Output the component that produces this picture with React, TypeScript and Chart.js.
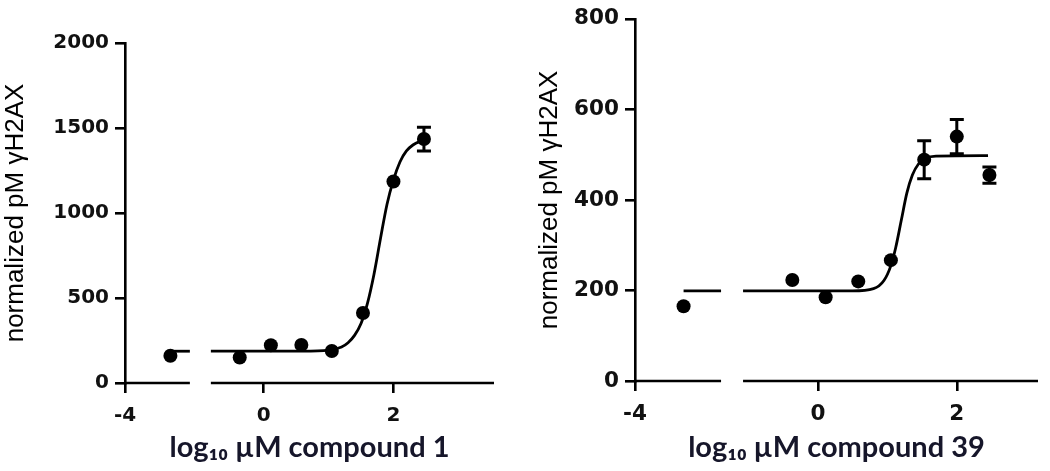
import React, { useEffect, useRef } from 'react';
import { Chart, registerables, LinearScale } from 'chart.js';

Chart.register(...registerables);

// ---------- data ----------
const controlX = -3.3; // untreated control plotted left of the axis break
const doseLog = [-0.37, 0.11, 0.58, 1.05, 1.53, 2.0, 2.47];
const xTicks = [-4, 0, 2];

// compound 1
const c1Control = 160;
const c1Values = [150, 222, 224, 188, 412, 1185, 1435];
const c1Errors = [0, 0, 0, 0, 0, 0, 70];
const c1CurveLeftX = [-3.25, -3.0];
const c1CurveLeftY = [187, 187];
const c1CurveX = [-0.815, 0.6, 1.0, 1.2, 1.3, 1.4, 1.5, 1.6, 1.7, 1.8, 1.9, 2.0, 2.1, 2.2, 2.3, 2.4, 2.48];
const c1CurveY = [187, 187, 193, 212, 237, 280, 350, 470, 640, 850, 1050, 1195, 1300, 1365, 1400, 1420, 1428];
const c1YTicks = [0, 500, 1000, 1500, 2000];

// compound 39
const c39Control = 165;
const c39Values = [223, 185, 220, 267, 489, 540, 455];
const c39Errors = [0, 0, 0, 0, 42, 38, 18];
const c39CurveLeftX = [-3.3, -2.76];
const c39CurveLeftY = [199, 199];
const c39CurveX = [-1.08, 0.5, 0.8, 0.95, 1.05, 1.12, 1.2, 1.28, 1.36, 1.45, 1.55, 1.7, 2.45];
const c39CurveY = [199, 199, 204, 222, 255, 295, 355, 415, 455, 480, 492, 497, 498];
const c39YTicks = [0, 200, 400, 600, 800];

// ---------- broken linear scale ----------
class BrokenLinearScale extends LinearScale {
  static id = 'brokenLinear';
  static defaults = {};
  _brk() {
    const o: any = this.options;
    return { a: o.breakStart as number, b: o.breakEnd as number, gap: o.breakGap as number };
  }
  getPixelForValue(value: any) {
    if (value === null || value === undefined || Number.isNaN(+value)) return NaN;
    const { a, b, gap } = this._brk();
    const min = this.min, max = this.max, len = (this as any)._length;
    const k = (len - gap) / ((a - min) + (max - b));
    let off: number;
    if (value <= a) off = (value - min) * k;
    else if (value >= b) off = (a - min) * k + gap + (value - b) * k;
    else off = (a - min) * k + gap * (value - a) / (b - a);
    return this.getPixelForDecimal(off / len);
  }
  getValueForPixel(pixel: number) {
    const { a, b, gap } = this._brk();
    const min = this.min, max = this.max, len = (this as any)._length;
    const k = (len - gap) / ((a - min) + (max - b));
    const off = this.getDecimalForPixel(pixel) * len;
    const aOff = (a - min) * k;
    if (off <= aOff) return min + off / k;
    if (off >= aOff + gap) return b + (off - aOff - gap) / k;
    return a + (b - a) * (off - aOff) / gap;
  }
}
Chart.register(BrokenLinearScale as any);

// ---------- plugins ----------
const brokenAxisPlugin = {
  id: 'brokenAxis',
  beforeDatasetsDraw(chart: any) {
    const xs = chart.scales.x;
    const ys = chart.scales.y;
    const o = xs.options;
    const ctx = chart.ctx;
    const yb = ys.getPixelForValue(0);
    ctx.save();
    ctx.strokeStyle = '#000';
    ctx.lineWidth = 2.6;
    ctx.beginPath();
    ctx.moveTo(chart.chartArea.left, yb);
    ctx.lineTo(xs.getPixelForValue(o.breakStart), yb);
    ctx.moveTo(xs.getPixelForValue(o.breakEnd), yb);
    ctx.lineTo(chart.chartArea.right, yb);
    ctx.stroke();
    ctx.restore();
  },
};

const errorBarPlugin = {
  id: 'errorBars',
  afterDatasetsDraw(chart: any) {
    const ctx = chart.ctx;
    const xs = chart.scales.x;
    const ys = chart.scales.y;
    chart.data.datasets.forEach((ds: any) => {
      if (!ds.errors) return;
      ctx.save();
      ctx.strokeStyle = '#000';
      ctx.lineWidth = 3;
      ds.data.forEach((pt: any, i: number) => {
        const e = ds.errors[i];
        if (!e) return;
        const px = xs.getPixelForValue(pt.x);
        const top = ys.getPixelForValue(pt.y + e);
        const bot = ys.getPixelForValue(pt.y - e);
        ctx.beginPath();
        ctx.moveTo(px, top);
        ctx.lineTo(px, bot);
        ctx.moveTo(px - 7, top);
        ctx.lineTo(px + 7, top);
        ctx.moveTo(px - 7, bot);
        ctx.lineTo(px + 7, bot);
        ctx.stroke();
      });
      ctx.restore();
    });
  },
};

function makeConfig(p: any): any {
  const tickFont = { family: "'DejaVu Sans', sans-serif", size: p.tickSize, weight: 'bold' };
  const pts = [{ x: controlX, y: p.control }, ...doseLog.map((x, i) => ({ x, y: p.values[i] }))];
  const errs = [0, ...p.errors];
  const curveStyle = {
    showLine: true,
    pointRadius: 0,
    borderColor: '#000',
    borderWidth: 2.8,
    cubicInterpolationMode: 'monotone',
    fill: false,
  };
  return {
    type: 'scatter',
    data: {
      datasets: [
        { ...curveStyle, data: p.curveLeftX.map((x: number, i: number) => ({ x, y: p.curveLeftY[i] })) },
        { ...curveStyle, data: p.curveX.map((x: number, i: number) => ({ x, y: p.curveY[i] })) },
        {
          data: pts,
          errors: errs,
          showLine: false,
          pointRadius: 7,
          pointBackgroundColor: '#000',
          pointBorderWidth: 0,
        },
      ],
    },
    options: {
      responsive: false,
      animation: false,
      events: [],
      layout: { padding: { left: 0, right: p.padRight, top: p.padTop, bottom: 0 } },
      plugins: { legend: { display: false }, tooltip: { enabled: false } },
      scales: {
        x: {
          type: 'brokenLinear',
          min: -4,
          max: p.xMax,
          bounds: 'data',
          breakStart: p.brkA,
          breakEnd: p.brkB,
          breakGap: p.gap,
          afterBuildTicks: (ax: any) => {
            ax.ticks = xTicks.map((v) => ({ value: v }));
          },
          afterFit: (s: any) => {
            s.height = p.xHeight;
          },
          border: { display: false },
          grid: { drawOnChartArea: false, drawTicks: true, tickLength: 10, color: '#000', lineWidth: 2.6 },
          ticks: {
            padding: 11,
            color: '#111',
            font: tickFont,
            maxRotation: 0,
            autoSkip: false,
            callback: (v: any) => String(v),
          },
          title: {
            display: true,
            text: p.xTitle,
            color: '#16162a',
            font: { family: "Lato, 'Open Sans', sans-serif", size: 29, weight: 'bold' },
            padding: { top: 0, bottom: 6 },
          },
        },
        y: {
          min: 0,
          max: p.yMax,
          afterBuildTicks: (ax: any) => {
            ax.ticks = p.yTicks.map((v: number) => ({ value: v }));
          },
          afterFit: (s: any) => {
            s.width = p.yWidth;
          },
          border: { display: true, color: '#000', width: 2.6 },
          grid: { drawOnChartArea: false, drawTicks: true, tickLength: 10, color: '#000', lineWidth: 2.6 },
          ticks: {
            padding: 6,
            color: '#111',
            font: tickFont,
            autoSkip: false,
            callback: (v: any) => String(v),
          },
          title: {
            display: true,
            text: 'normalized pM γH2AX',
            color: '#000',
            font: { family: "'Liberation Sans', Arial, sans-serif", size: 26, weight: 'normal' },
            padding: { top: p.yTitlePad, bottom: 0 },
          },
        },
      },
    },
    plugins: [brokenAxisPlugin, errorBarPlugin],
  };
}

const panel1 = {
  control: c1Control,
  values: c1Values,
  errors: c1Errors,
  curveLeftX: c1CurveLeftX,
  curveLeftY: c1CurveLeftY,
  curveX: c1CurveX,
  curveY: c1CurveY,
  yTicks: c1YTicks,
  yMax: 2000,
  xMax: 3.55,
  brkA: -3.0,
  brkB: -0.815,
  gap: 21,
  padTop: 43,
  padRight: 26,
  yWidth: 125,
  xHeight: 88,
  yTitlePad: 0,
  tickSize: 20,
  xTitle: 'log₁₀ µM compound 1',
};

const panel2 = {
  control: c39Control,
  values: c39Values,
  errors: c39Errors,
  curveLeftX: c39CurveLeftX,
  curveLeftY: c39CurveLeftY,
  curveX: c39CurveX,
  curveY: c39CurveY,
  yTicks: c39YTicks,
  yMax: 800,
  xMax: 3.17,
  brkA: -2.76,
  brkB: -1.08,
  gap: 22,
  padTop: 13,
  padRight: 12,
  yWidth: 115,
  xHeight: 90,
  yTitlePad: 14,
  tickSize: 21.5,
  xTitle: 'log₁₀ µM compound 39',
};

export default function App() {
  const ref1 = useRef<HTMLCanvasElement>(null);
  const ref2 = useRef<HTMLCanvasElement>(null);
  useEffect(() => {
    const ch1 = new Chart(ref1.current as HTMLCanvasElement, makeConfig(panel1));
    const ch2 = new Chart(ref2.current as HTMLCanvasElement, makeConfig(panel2));
    return () => {
      ch1.destroy();
      ch2.destroy();
    };
  }, []);
  return (
    <div style={{ position: 'fixed', left: 0, top: 0, width: 1050, height: 471, background: '#fff' }}>
      <canvas ref={ref1} width={520} height={471} style={{ position: 'absolute', left: 0, top: 0 }} />
      <canvas ref={ref2} width={530} height={471} style={{ position: 'absolute', left: 520, top: 0 }} />
    </div>
  );
}
